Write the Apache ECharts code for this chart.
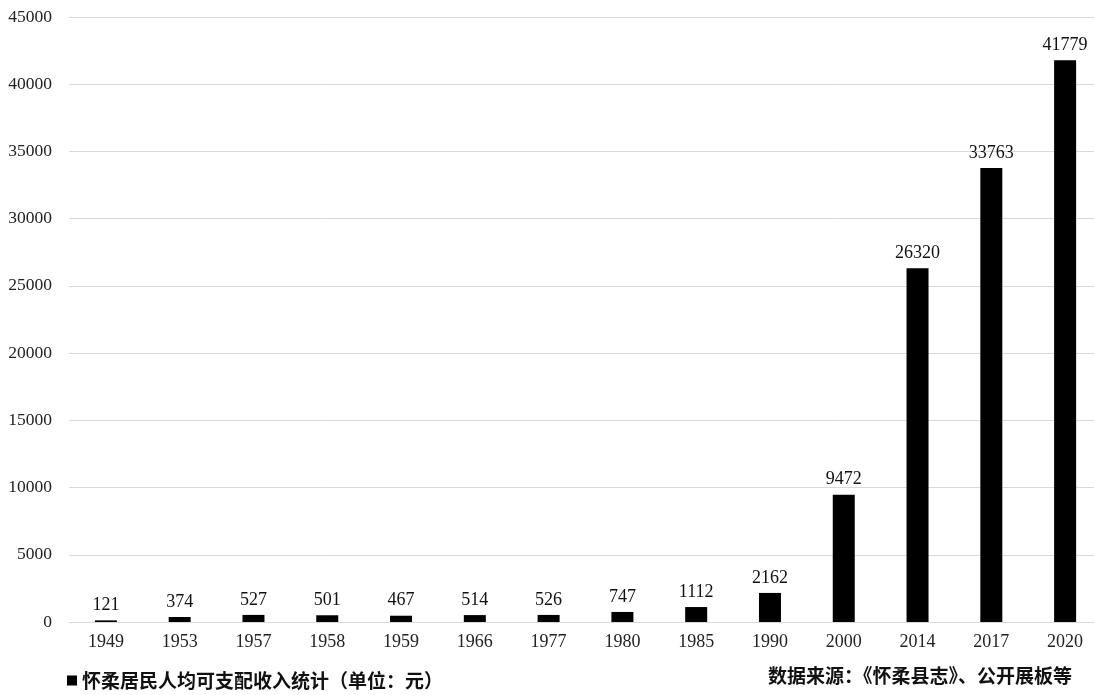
<!DOCTYPE html>
<html><head><meta charset="utf-8">
<script src="https://cdn.jsdelivr.net/npm/echarts@6/dist/echarts.min.js"></script>
<style>html,body{margin:0;padding:0;background:#fff}#c{width:1094px;height:695px}</style>
</head><body><div id="c"></div>
<script>
const categories = ['1949','1953','1957','1958','1959','1966','1977','1980','1985','1990','2000','2014','2017','2020'];
const incomeValues = [121,374,527,501,467,514,526,747,1112,2162,9472,26320,33763,41779];
const yTickLabels = ['0','5000','10000','15000','20000','25000','30000','35000','40000','45000'];
const seriesName = '怀柔居民人均可支配收入统计（单位：元）';
const sourceText = '数据来源：《怀柔县志》、公开展板等';

const chart = echarts.init(document.getElementById('c'));
chart.setOption({
  animation: false,
  backgroundColor: '#fff',
  grid: { left: 69, top: 17, right: -8, height: 605, containLabel: false, outerBoundsMode: 'none' },
  legend: {
    data: [seriesName], left: 62, top: 666, icon: 'rect', itemWidth: 10, itemHeight: 10, itemGap: 4,
    textStyle: { fontFamily: 'Noto Sans CJK SC', fontWeight: 'bold', fontSize: 19, color: '#111' }
  },
  graphic: [{
    type: 'text', left: 768, top: 666,
    style: { text: sourceText, font: 'bold 19px "Noto Sans CJK SC"', fill: '#111' }
  }],
  xAxis: {
    type: 'category', data: categories,
    axisLine: { show: false }, axisTick: { show: false },
    axisLabel: { fontFamily: 'Liberation Serif', fontSize: 18, color: '#222', margin: 11 }
  },
  yAxis: {
    type: 'value', min: 0, max: 45000, interval: 5000,
    axisLine: { show: false }, axisTick: { show: false },
    splitLine: { lineStyle: { color: '#d9d9d9', width: 1 } },
    axisLabel: { fontFamily: 'Liberation Serif', fontSize: 17.5, color: '#222', margin: 17,
      formatter: (v) => yTickLabels[Math.round(v / 5000)] }
  },
  series: [{
    name: seriesName, type: 'bar', data: incomeValues, barWidth: 22,
    itemStyle: { color: '#000' },
    label: { show: true, position: 'top', distance: 6, fontFamily: 'Liberation Serif', fontSize: 18, color: '#111' }
  }]
});
</script></body></html>
